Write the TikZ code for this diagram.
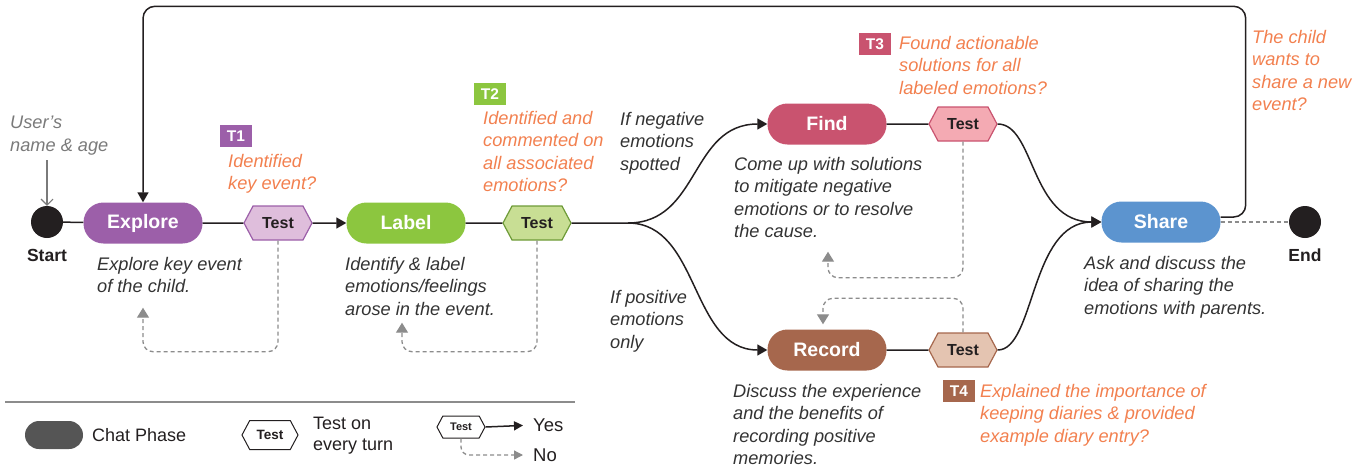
\documentclass[tikz,border=0pt]{standalone}
\usepackage{fontspec}
\setmainfont{Liberation Sans}
\usetikzlibrary{arrows.meta,shapes.symbols,calc}
\definecolor{cpurple}{HTML}{9C5FA9}
\definecolor{lpurple}{HTML}{DFBEDC}
\definecolor{cgreen}{HTML}{8CC63F}
\definecolor{lgreen}{HTML}{C8DE94}
\definecolor{dgreen}{HTML}{6E9B38}
\definecolor{cfind}{HTML}{C9536F}
\definecolor{lfind}{HTML}{F4AAB3}
\definecolor{crecord}{HTML}{A6674D}
\definecolor{lrecord}{HTML}{E4C4B1}
\definecolor{cshare}{HTML}{5C94CF}
\definecolor{corange}{HTML}{F2804F}
\definecolor{cdark}{HTML}{231F20}
\definecolor{ctext}{HTML}{333333}
\definecolor{cuser}{HTML}{7A7A7A}
\definecolor{cdash}{HTML}{8C8C8C}
\definecolor{clegend}{HTML}{555555}
\begin{document}
\begin{tikzpicture}[x=1pt,y=-1pt,
  phase/.style={rectangle, rounded corners=20pt, minimum width=119pt, minimum height=41pt, inner sep=0pt, text=white, font=\fontsize{19.5}{21}\selectfont\bfseries},
  testbox/.style={signal, signal to=east and west, signal pointer angle=124, minimum width=68pt, minimum height=34pt, inner sep=0pt, line width=1.2pt, text=cdark, font=\fontsize{16}{18}\selectfont\bfseries},
  tag/.style={rectangle, minimum width=32pt, minimum height=22pt, inner sep=0pt, text=white, font=\fontsize{15.5}{17}\selectfont\bfseries},
  desc/.style={anchor=north west, align=left, inner sep=0pt, text=ctext, font=\fontsize{18.2}{22.5}\selectfont\itshape},
  qtext/.style={desc, text=corange},
  endpt/.style={circle, fill=cdark, minimum size=32pt, inner sep=0pt},
  endlbl/.style={inner sep=0pt, text=cdark, font=\fontsize{17.5}{19}\selectfont\bfseries},
  flow/.style={draw=cdark, line width=1.5pt},
  arr/.style={-{Triangle[length=10pt,width=11pt]}},
  noloop/.style={draw=cdash, line width=1.3pt, dash pattern=on 4pt off 3pt, rounded corners=10pt, -{Triangle[length=10pt,width=12pt]}},
  legtext/.style={anchor=west, align=left, inner sep=0pt, text=cdark, font=\fontsize{18}{21}\selectfont}
]
\useasboundingbox (0,0) rectangle (1372,469);

% main nodes
\node[endpt] (start) at (47,222) {};
\node[endlbl] (startlbl) at (47,255) {Start};
\node[phase, fill=cpurple] (explore) at (143,223) {Explore};
\node[testbox, fill=lpurple, draw=cpurple] (t1) at (278,223) {Test};
\node[phase, fill=cgreen] (label) at (406,223) {Label};
\node[testbox, fill=lgreen, draw=dgreen] (t2) at (537,223) {Test};
\node[phase, fill=cfind] (find) at (827,124) {Find};
\node[testbox, fill=lfind, draw=cfind] (t3) at (963,124) {Test};
\node[phase, fill=crecord] (record) at (827,350) {Record};
\node[testbox, fill=lrecord, draw=crecord] (t4) at (963,350) {Test};
\node[phase, fill=cshare] (share) at (1161,222) {Share};
\node[endpt] (end) at (1305,222) {};
\node[endlbl] (endl) at (1305,255) {End};

% user input
\node[desc, text=cuser] (user) at (10,116) {User’s\\name \& age};
\draw[draw=cuser, line width=1.1pt, -{Straight Barb[length=6pt,width=12pt]}] (47,160) -- (start.north);

% descriptions
\node[desc] (dexplore) at (97,257) {Explore key event\\of the child.};
\node[desc] (dlabel) at (345,257) {Identify \& label\\emotions/feelings\\arose in the event.};
\node[desc] (dfind) at (734,157) {Come up with solutions\\to mitigate negative\\emotions or to resolve\\the cause.};
\node[desc] (drecord) at (733,384) {Discuss the experience\\and the benefits of\\recording positive\\memories.};
\node[desc] (dshare) at (1084,256) {Ask and discuss the\\idea of sharing the\\emotions with parents.};
\node[desc] (neg) at (620,112) {If negative\\emotions\\spotted};
\node[desc] (pos) at (610,290) {If positive\\emotions\\only};

% test tags and questions
\node[tag, fill=cpurple] (tag1) at (236,136) {T1};
\node[qtext] (q1) at (228,154) {Identified\\key event?};
\node[tag, fill=cgreen] (tag2) at (490,94) {T2};
\node[qtext] (q2) at (483,111) {Identified and\\commented on\\all associated\\emotions?};
\node[tag, fill=cfind] (tag3) at (875,44) {T3};
\node[qtext] (q3) at (899,36) {Found actionable\\solutions for all\\labeled emotions?};
\node[tag, fill=crecord] (tag4) at (959,391) {T4};
\node[qtext] (q4) at (980,384) {Explained the importance of\\keeping diaries \& provided\\example diary entry?};
\node[qtext] (q5) at (1252,30) {The child\\wants to\\share a new\\event?};

% connectors
\draw[flow] (start) -- (explore);
\draw[flow] (explore) -- (t1);
\draw[flow, arr] (t1) -- (label);
\draw[flow] (label) -- (t2);
\coordinate (split) at (628,223);
\draw[flow] (t2) -- (split);
\draw[flow, arr] (split) .. controls (700,223) and (690,124) .. (find.west);
\draw[flow, arr] (split) .. controls (700,223) and (690,350) .. (record.west);
\draw[flow] (find) -- (t3);
\draw[flow] (record) -- (t4);
\draw[flow, arr] (t3.east) .. controls (1035,124) and (1030,222) .. (share.west);
\draw[flow, arr] (t4.east) .. controls (1035,350) and (1030,222) .. (share.west);
\draw[flow, arr, rounded corners=12pt] ([yshift=5pt]share.east) -- ++(25,0) |- ($(explore.north)+(0,-196)$) -- (explore.north);
\draw[draw=cdash, line width=1.3pt, dash pattern=on 4pt off 3pt] (share) -- (end);

% feedback loops
\draw[noloop] (t1.south) |- ($(explore.south)+(0,108)$) -- ($(explore.south)+(0,64)$);
\draw[noloop] (t2.south) |- ($(label.south)+(-4,108)$) -- ($(label.south)+(-4,79)$);
\draw[noloop] (t3.south) |- ($(find.south)+(1,133)$) -- ($(find.south)+(1,107)$);
\draw[noloop] (t4.north) |- ($(record.north)+(-4,-31)$) -- ($(record.north)+(-4,-5)$);

% legend
\draw[draw=cdash, line width=1.2pt] (5,402) -- (575,402);
\node[rectangle, rounded corners=14pt, fill=clegend, minimum width=58pt, minimum height=28pt, inner sep=0pt] (lgphase) at (54,435) {};
\node[legtext] (lgphasel) at (92,435) {Chat Phase};
\node[testbox, fill=white, draw=cdark, line width=1pt, minimum width=56pt, minimum height=29pt, font=\fontsize{13.5}{15}\selectfont\bfseries] (lgtest) at (270,435) {Test};
\node[legtext] (lgtestl) at (313,436) {Test on\\every turn};
\node[testbox, fill=white, draw=cdark, line width=1pt, minimum width=48pt, minimum height=22pt, font=\fontsize{11}{12}\selectfont\bfseries] (lgt) at (461,427) {Test};
\node[legtext, font=\fontsize{18.5}{20}\selectfont] (yes) at (533,425) {Yes};
\node[legtext, font=\fontsize{18.5}{20}\selectfont] (no) at (533,455) {No};
\draw[flow, -{Triangle[length=9pt,width=9pt]}, shorten >=10pt] (lgt.east) -- (yes.west);
\draw[noloop, rounded corners=8pt, -{Triangle[length=9pt,width=9pt]}, shorten >=10pt] (lgt.south) |- (no.west);
\end{tikzpicture}
\end{document}
